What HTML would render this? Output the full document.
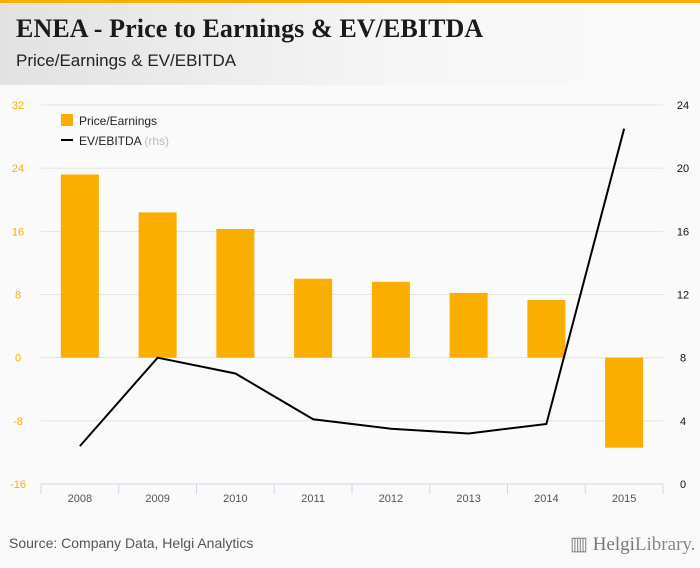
<!DOCTYPE html>
<html><head><meta charset="utf-8"><style>
body{margin:0;width:700px;height:568px;background:#fafafa;font-family:"Liberation Sans",sans-serif;overflow:hidden;position:relative}
#top{position:absolute;left:0;top:0;width:700px;height:3px;background:#f9ae00}
#hdr{position:absolute;left:0;top:3px;width:700px;height:82px;background:linear-gradient(90deg,#e2e2e2,#f7f7f7 60%,#fafafa)}
#title{position:absolute;left:16px;top:14px;font-family:"Liberation Serif",serif;font-weight:bold;font-size:26px;color:#1a1a1a;letter-spacing:0.1px}
#sub{position:absolute;left:16px;top:51px;font-size:17px;color:#222}
#src{position:absolute;left:9px;top:535px;font-size:14px;color:#555}
#logo{position:absolute;left:570px;top:533px;font-family:"Liberation Serif",serif;font-size:19px;color:#888}
svg{position:absolute;left:0;top:0}
</style></head><body>
<div id="top"></div>
<div id="hdr"></div>
<div id="title">ENEA - Price to Earnings &amp; EV/EBITDA</div>
<div id="sub">Price/Earnings &amp; EV/EBITDA</div>
<div id="src">Source: Company Data, Helgi Analytics</div>
<div id="logo">▥ <b style="font-weight:normal;color:#777">Helgi</b>Library.</div>
<svg id="chart" width="700" height="568"></svg>
<script>
const categories=["2008","2009","2010","2011","2012","2013","2014","2015"];
const peValues=[23.2,18.4,16.3,10.0,9.6,8.2,7.3,-11.4];
const evValues=[2.4,8.0,7.0,4.1,3.5,3.2,3.8,22.5];
const leftTicks=[-16,-8,0,8,16,24,32];
const rightTicks=[0,4,8,12,16,20,24];
const NS="http://www.w3.org/2000/svg";
const svg=document.getElementById('chart');
const X0=41,X1=663,T=105,B=484;
const yL=v=>B-(v+16)/48*(B-T);
const yR=v=>B-v/24*(B-T);
const bw=(X1-X0)/categories.length;
const xc=i=>X0+bw*(i+0.5);
function mk(tag,attrs){const e=document.createElementNS(NS,tag);for(const k in attrs)e.setAttribute(k,attrs[k]);svg.appendChild(e);return e;}
leftTicks.forEach((t,i)=>{
  if(t!==-16){const g=mk('line',{x1:X0,x2:X1,y1:yL(t),y2:yL(t),stroke:'#e3e3e3','stroke-width':1});
  
  }
  const l=mk('text',{x:18,y:yL(t)+4,'text-anchor':'middle','font-size':11,fill:'#f9ae00'});l.textContent=t;
  
  
});
rightTicks.forEach(t=>{
  const l=mk('text',{x:683,y:yR(t)+4,'text-anchor':'middle','font-size':11,fill:'#111'});l.textContent=t;
  
  
});
const ax=mk('line',{x1:X0,x2:X1,y1:B,y2:B,stroke:'#ccd6eb'});


for(let i=0;i<=categories.length;i++){const tk=mk('line',{x1:X0+bw*i,x2:X0+bw*i,y1:B,y2:B+10,stroke:'#ccd6eb'});

}
categories.forEach((c,i)=>{
  const l=mk('text',{x:xc(i),y:502,'text-anchor':'middle','font-size':11,fill:'#555'});l.textContent=c;
  
  
  const v=peValues[i],y0=yL(0),y1=yL(v);
  const r=mk('rect',{x:xc(i)-19,y:Math.min(y0,y1),width:38,height:Math.abs(y1-y0),fill:'#f9ae00'});
  
  
});
const pl=mk('polyline',{points:evValues.map((v,i)=>xc(i)+','+yR(v)).join(' '),fill:'none',stroke:'#000','stroke-width':2});


const lr=mk('rect',{x:61,y:114,width:12,height:12,fill:'#f9ae00'});


const lt=mk('text',{x:79,y:125,'font-size':12,fill:'#222'});lt.textContent='Price/Earnings';


const ll=mk('line',{x1:61,x2:73,y1:140,y2:140,stroke:'#000','stroke-width':2});


const lt2=mk('text',{x:79,y:145,'font-size':12,fill:'#222'});lt2.innerHTML='EV/EBITDA <tspan fill="#bbb">(rhs)</tspan>';


</script>
</body></html>
